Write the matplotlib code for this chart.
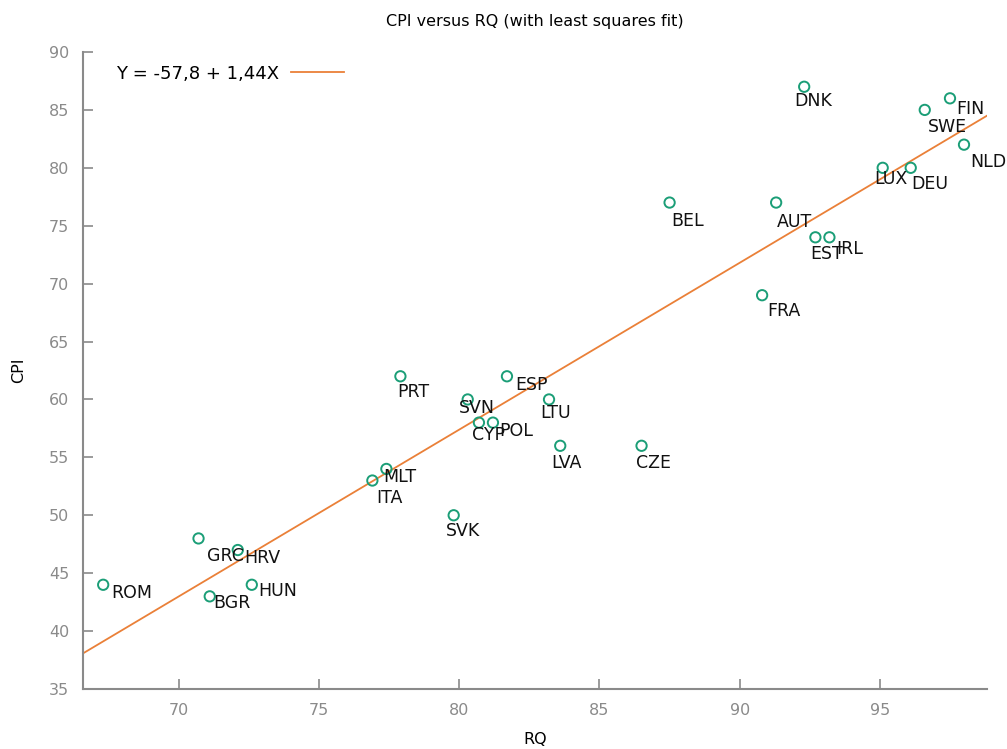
import numpy as np
import matplotlib
matplotlib.use("Agg")
import matplotlib.pyplot as plt

# data
countries = ["ROM", "GRC", "HRV", "BGR", "HUN", "ITA", "MLT", "PRT", "SVK", "SVN",
             "CYP", "POL", "ESP", "LTU", "LVA", "CZE", "BEL", "FRA", "AUT", "DNK",
             "EST", "IRL", "LUX", "DEU", "SWE", "FIN", "NLD"]
rq = [67.3, 70.7, 72.1, 71.1, 72.6, 76.9, 77.4, 77.9, 79.8, 80.3,
      80.7, 81.2, 81.7, 83.2, 83.6, 86.5, 87.5, 90.8, 91.3, 92.3,
      92.7, 93.2, 95.1, 96.1, 96.6, 97.5, 98.0]
cpi = [44, 48, 47, 43, 44, 53, 54, 62, 50, 60,
       58, 58, 62, 60, 56, 56, 77, 69, 77, 87,
       74, 74, 80, 80, 85, 86, 82]

intercept = -57.8
slope = 1.44

# label offsets in pixels (dx right, dy down) so labels sit like the original
label_offsets = {
    "ROM": (8, 8), "GRC": (8, 18), "HRV": (6, 8), "BGR": (4, 7), "HUN": (6, 6),
    "ITA": (4, 17), "MLT": (-3, 8), "PRT": (-3, 16), "SVK": (-8, 16), "SVN": (-9, 9),
    "CYP": (-7, 12), "POL": (6, 8), "ESP": (8, 9), "LTU": (-9, 14), "LVA": (-9, 17),
    "CZE": (-6, 17), "BEL": (2, 18), "FRA": (5, 16), "AUT": (1, 19), "DNK": (-10, 14),
    "EST": (-5, 17), "IRL": (7, 12), "LUX": (-8, 11), "DEU": (1, 16), "SWE": (3, 17),
    "FIN": (6, 11), "NLD": (6, 17),
}

green = "#1b9e77"
orange = "#ea8038"
gray = "#8a8a8a"

fig = plt.figure(figsize=(10.07, 7.49), dpi=100)
ax = fig.add_axes([83 / 1007, 1 - 689 / 749, 904 / 1007, 637 / 749])

xlim = (66.58, 98.82)
ax.set_xlim(*xlim)
ax.set_ylim(35, 90)

xs = np.array(xlim)
fit_label = "Y = %s + %sX" % (("%.1f" % intercept).replace(".", ","),
                              ("%.2f" % slope).replace(".", ","))
ax.plot(xs, intercept + slope * xs, color=orange, lw=1.3, label=fit_label, zorder=2)

ax.scatter(rq, cpi, s=55, facecolors="none", edgecolors=green, linewidths=1.4, zorder=3)

for name, x, y in zip(countries, rq, cpi):
    dx, dy = label_offsets[name]
    ax.annotate(name, (x, y), xytext=(dx, -dy), textcoords="offset pixels",
                ha="left", va="center", fontsize=12.5, color="#111111", zorder=4)

for side in ("top", "right"):
    ax.spines[side].set_visible(False)
for side in ("left", "bottom"):
    ax.spines[side].set_color(gray)
    ax.spines[side].set_linewidth(1.5)

ax.set_xticks([70, 75, 80, 85, 90, 95])
ax.set_yticks(range(35, 91, 5))
ax.tick_params(direction="in", length=7, width=1.2, color=gray,
               labelcolor=gray, labelsize=11.5, pad=10)

ax.set_xlabel("RQ", fontsize=11.5, labelpad=10)
ax.set_ylabel("CPI", fontsize=11.5, labelpad=16)
ax.set_title("CPI versus RQ (with least squares fit)", fontsize=11.5, pad=19)

ax.legend(loc="upper left", bbox_to_anchor=(0.036, 0.98), frameon=False,
          markerfirst=False, handlelength=2.95, handletextpad=0.67,
          fontsize=13, borderpad=0, borderaxespad=0)

fig.savefig("out.png", dpi=100)
